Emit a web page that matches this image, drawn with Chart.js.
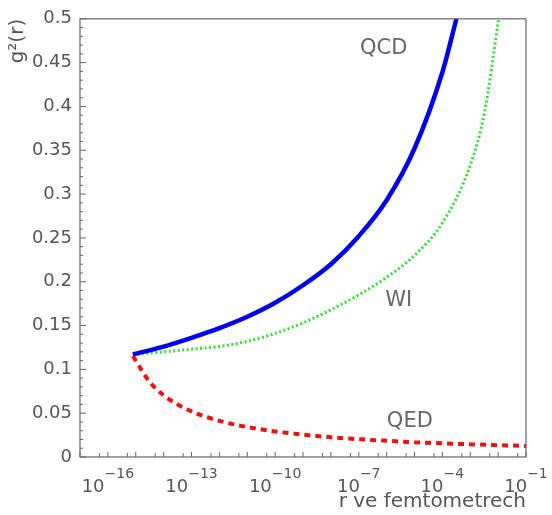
<!DOCTYPE html>
<html>
<head>
<meta charset="utf-8">
<script src="https://cdn.jsdelivr.net/npm/chart.js@4.4.0/dist/chart.umd.min.js"></script>
<style>
  body { margin: 0; background: #fff; }
  #wrap { width: 552px; height: 515px; position: relative; }
</style>
</head>
<body>
<div id="wrap"><canvas id="myChart"></canvas></div>
<script>
// r (fm) and g^2, roughly one point per decade
var qcdR = [7.9e-16, 1e-14, 1e-13, 1e-12, 1e-11, 1e-10, 1e-9, 1e-8, 1e-7, 1e-6, 1e-5, 1e-4, 3.2e-4];
var qcdG = [0.117, 0.126, 0.136, 0.147, 0.160, 0.176, 0.196, 0.220, 0.252, 0.293, 0.352, 0.439, 0.500];

var wiR = [7.9e-16, 1e-14, 1e-13, 1e-12, 1e-11, 1e-10, 1e-9, 1e-8, 1e-7, 1e-6, 1e-5, 1e-4, 1e-3, 3.2e-3, 1.05e-2];
var wiG = [0.117, 0.120, 0.123, 0.126, 0.132, 0.141, 0.153, 0.168, 0.185, 0.205, 0.230, 0.267, 0.333, 0.392, 0.500];

var qedR = [7.9e-16, 3.2e-15, 1e-14, 1e-13, 1e-12, 1e-11, 1e-10, 1e-9, 1e-8, 1e-7, 1e-6, 1e-5, 1e-4, 1e-3, 1e-2, 1e-1];
var qedG = [0.115, 0.0855, 0.0704, 0.052, 0.0413, 0.0342, 0.0292, 0.0255, 0.0226, 0.0203, 0.0185, 0.0169, 0.0156, 0.0145, 0.0135, 0.0126];

var xLabelExp = [-16, -13, -10, -7, -4, -1];
var curveNames = ['QCD', 'WI', 'QED'];
var namePos = [{x: 7.8e-7, y: 0.466}, {x: 2.7e-6, y: 0.179}, {x: 6.8e-6, y: 0.040}];

function pts(r, g) {
  var out = [];
  for (var i = 0; i < r.length; i++) out.push({x: r[i], y: g[i]});
  return out;
}

var decor = {
  id: 'decor',
  afterDraw: function(chart) {
    var c = chart.ctx, a = chart.chartArea, xs = chart.scales.x, ys = chart.scales.y;
    c.save();
    c.strokeStyle = '#666';
    c.lineWidth = 1.2;
    c.strokeRect(a.left, a.top, a.right - a.left, a.bottom - a.top);
    c.lineWidth = 1;
    c.beginPath();
    for (var v = 0; v <= 50; v++) {
      var y = ys.getPixelForValue(v / 100);
      var len = (v % 5 == 0) ? 6 : 3;
      c.moveTo(a.left, y); c.lineTo(a.left + len, y);
    }
    for (var e = -17; e <= -1; e++) {
      var x1 = xs.getPixelForValue(Math.pow(10, e));
      c.moveTo(x1, a.bottom); c.lineTo(x1, a.bottom - 5);
      if (e < -1) {
        var x5 = xs.getPixelForValue(5 * Math.pow(10, e));
        c.moveTo(x5, a.bottom); c.lineTo(x5, a.bottom - 4);
      }
    }
    c.stroke();

    // x tick labels 10^n
    c.fillStyle = '#555';
    c.textBaseline = 'alphabetic';
    c.textAlign = 'left';
    for (var i = 0; i < xLabelExp.length; i++) {
      var base = '10', sup = '\u2212' + Math.abs(xLabelExp[i]);
      c.font = '18px "DejaVu Sans"';
      var wb = c.measureText(base).width;
      c.font = '14px "DejaVu Sans"';
      var ws = c.measureText(sup).width;
      var cx = xs.getPixelForValue(Math.pow(10, xLabelExp[i]));
      var x0 = cx - (wb + ws) / 2;
      c.font = '18px "DejaVu Sans"';
      c.fillText(base, x0, a.bottom + 35);
      c.font = '14px "DejaVu Sans"';
      c.fillText(sup, x0 + wb, a.bottom + 21);
    }

    // curve names
    c.font = '21px "DejaVu Sans"';
    c.fillStyle = '#666';
    c.textAlign = 'center';
    c.textBaseline = 'middle';
    for (var k = 0; k < curveNames.length; k++) {
      c.fillText(curveNames[k], xs.getPixelForValue(namePos[k].x), ys.getPixelForValue(namePos[k].y));
    }
    c.restore();
  }
};

var ctx = document.getElementById('myChart').getContext('2d');
var myChart = new Chart(ctx, {
  type: 'line',
  data: {
    datasets: [{
      label: 'QCD',
      data: pts(qcdR, qcdG),
      borderColor: '#0000ee',
      borderWidth: 4.5,
      pointRadius: 0,
      fill: false,
      cubicInterpolationMode: 'monotone'
    }, {
      label: 'WI',
      data: pts(wiR, wiG),
      borderColor: '#33dd33',
      borderWidth: 3,
      borderDash: [2, 2.5],
      pointRadius: 0,
      fill: false,
      cubicInterpolationMode: 'monotone'
    }, {
      label: 'QED',
      data: pts(qedR, qedG),
      borderColor: '#ee1111',
      borderWidth: 4,
      borderDash: [6, 5],
      pointRadius: 0,
      fill: false,
      cubicInterpolationMode: 'monotone'
    }]
  },
  options: {
    responsive: true,
    maintainAspectRatio: false,
    animation: false,
    layout: { padding: { left: 0, right: 26, top: 12, bottom: 0 } },
    plugins: { legend: { display: false }, tooltip: { enabled: false } },
    scales: {
      x: {
        type: 'logarithmic',
        min: 1e-17,
        max: 1e-1,
        grid: { display: false },
        border: { display: false },
        ticks: { display: false },
        title: {
          display: true,
          text: 'r ve femtometrech',
          align: 'end',
          color: '#555',
          font: { family: 'DejaVu Sans', size: 20 },
          padding: { top: 0, bottom: 1 }
        },
        afterFit: function(s) { s.height = 58; }
      },
      y: {
        min: 0,
        max: 0.5,
        grid: { display: false, drawTicks: false },
        border: { display: false },
        ticks: {
          stepSize: 0.05,
          padding: 8,
          color: '#555',
          font: { family: 'DejaVu Sans', size: 18 },
          callback: function(v) { return String(+v.toFixed(2)); }
        },
        title: {
          display: true,
          text: 'g\u00b2(r)',
          align: 'end',
          color: '#555',
          font: { family: 'DejaVu Sans', size: 20 },
          padding: { top: 6, bottom: 0 }
        },
        afterFit: function(s) { s.width = 80; }
      }
    }
  },
  plugins: [decor]
});
</script>
</body>
</html>
